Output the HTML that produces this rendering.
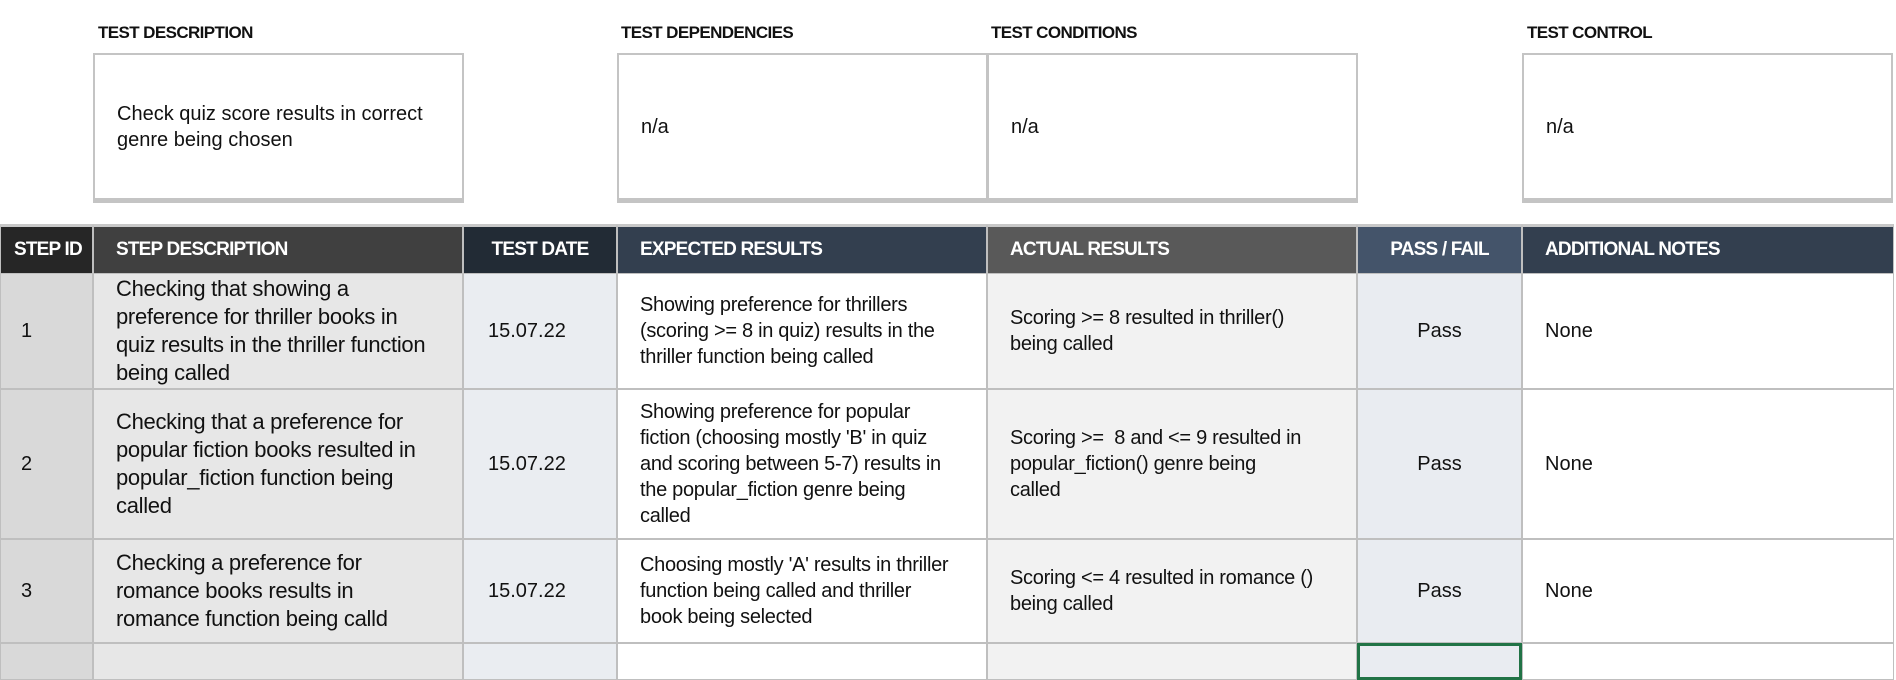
<!DOCTYPE html>
<html><head><meta charset="utf-8"><style>
body{margin:0;width:1896px;height:656px;overflow:hidden;background:#fff;font-family:"Liberation Sans",sans-serif;color:#111;position:relative}
.a{position:absolute;box-sizing:border-box}
.lbl{font-weight:bold;font-size:17px;letter-spacing:-0.6px;top:23px}
.box{border:2px solid #c4c4c4;border-bottom:5px solid #c4c4c4;top:53px;height:150px;display:flex;align-items:center;padding-left:22px;font-size:20px;line-height:26px}
.h{top:224px;height:50px;color:#fff;font-weight:bold;font-size:19px;letter-spacing:-0.8px;display:flex;align-items:center;padding-left:22px;border:1px solid #bfbfbf;border-top:3px solid #c8c8c8;white-space:nowrap}
.c{display:flex;align-items:center;padding-left:22px;border:1px solid #bfbfbf;font-size:20px;line-height:26px;white-space:nowrap;overflow:hidden}
.ctr{justify-content:center;padding-left:0}
.big{font-size:22px;line-height:28px}
</style></head><body>
<div class="a lbl" style="left:98px">TEST DESCRIPTION</div>
<div class="a lbl" style="left:621px">TEST DEPENDENCIES</div>
<div class="a lbl" style="left:991px">TEST CONDITIONS</div>
<div class="a lbl" style="left:1527px">TEST CONTROL</div>
<div class="a box" style="left:93px;width:371px">Check quiz score results in correct<br>genre being chosen</div>
<div class="a box" style="left:617px;width:371px">n/a</div>
<div class="a box" style="left:987px;width:371px">n/a</div>
<div class="a box" style="left:1522px;width:371px">n/a</div>

<div class="a h" style="left:0;width:93px;background:#262626;padding-left:13px">STEP ID</div>
<div class="a h" style="left:93px;width:370px;background:#404040">STEP DESCRIPTION</div>
<div class="a h" style="left:463px;width:154px;background:#222b35;justify-content:center;padding-left:0">TEST DATE</div>
<div class="a h" style="left:617px;width:370px;background:#333f4f">EXPECTED RESULTS</div>
<div class="a h" style="left:987px;width:370px;background:#595959">ACTUAL RESULTS</div>
<div class="a h" style="left:1357px;width:165px;background:#44546a;justify-content:center;padding-left:0">PASS / FAIL</div>
<div class="a h" style="left:1522px;width:372px;background:#333f4f">ADDITIONAL NOTES</div>

<div id="rows"></div>
<script>
const tops=[273,389,539,643];
const rows=[
["1","Checking that showing a<br>preference for thriller books in<br>quiz results in the thriller function<br>being called","15.07.22","Showing preference for thrillers<br>(scoring >= 8 in quiz) results in the<br>thriller function being called","Scoring >= 8 resulted in thriller()<br>being called","Pass","None"],
["2","Checking that a preference for<br>popular fiction books resulted in<br>popular_fiction function being<br>called","15.07.22","Showing preference for popular<br>fiction (choosing mostly 'B' in quiz<br>and scoring between 5-7) results in<br>the popular_fiction genre being<br>called","Scoring >=&nbsp; 8 and <= 9 resulted in<br>popular_fiction() genre being<br>called","Pass","None"],
["3","Checking a preference for<br>romance books results in<br>romance function being calld","15.07.22","Choosing mostly 'A' results in thriller<br>function being called and thriller<br>book being selected","Scoring <= 4 resulted in romance ()<br>being called","Pass","None"],
["","","","","","",""]];
const cols=[[0,93,"#d9d9d9","step-id"],[93,370,"#e7e7e7","step-description"],[463,154,"#eaedf1","test-date"],[617,370,"#fff","expected-results"],[987,370,"#f2f2f2","actual-results"],[1357,165,"#e9ecf1","pass-fail"],[1522,372,"#fff","additional-notes"]];
const R=document.getElementById('rows');
rows.forEach((r,i)=>{const t=tops[i],h=(tops[i+1]||680)-t;
cols.forEach((c,j)=>{const d=document.createElement('div');
d.className='a c'+(j==1?' big':'')+(j==5?' ctr':'');
if(j==0){d.style.paddingLeft='20px';}
if(j==2){d.style.paddingLeft='24px';}
if(j==3||j==4||j==1){d.style.letterSpacing='-0.3px';}
d.style.cssText+=`left:${c[0]}px;top:${t}px;width:${c[1]}px;height:${h}px;background:${c[2]}`;
if(i==3&&j==5){d.style.border='3px solid #217346';}
d.innerHTML=r[j];


R.appendChild(d);});});
</script>
</body></html>
